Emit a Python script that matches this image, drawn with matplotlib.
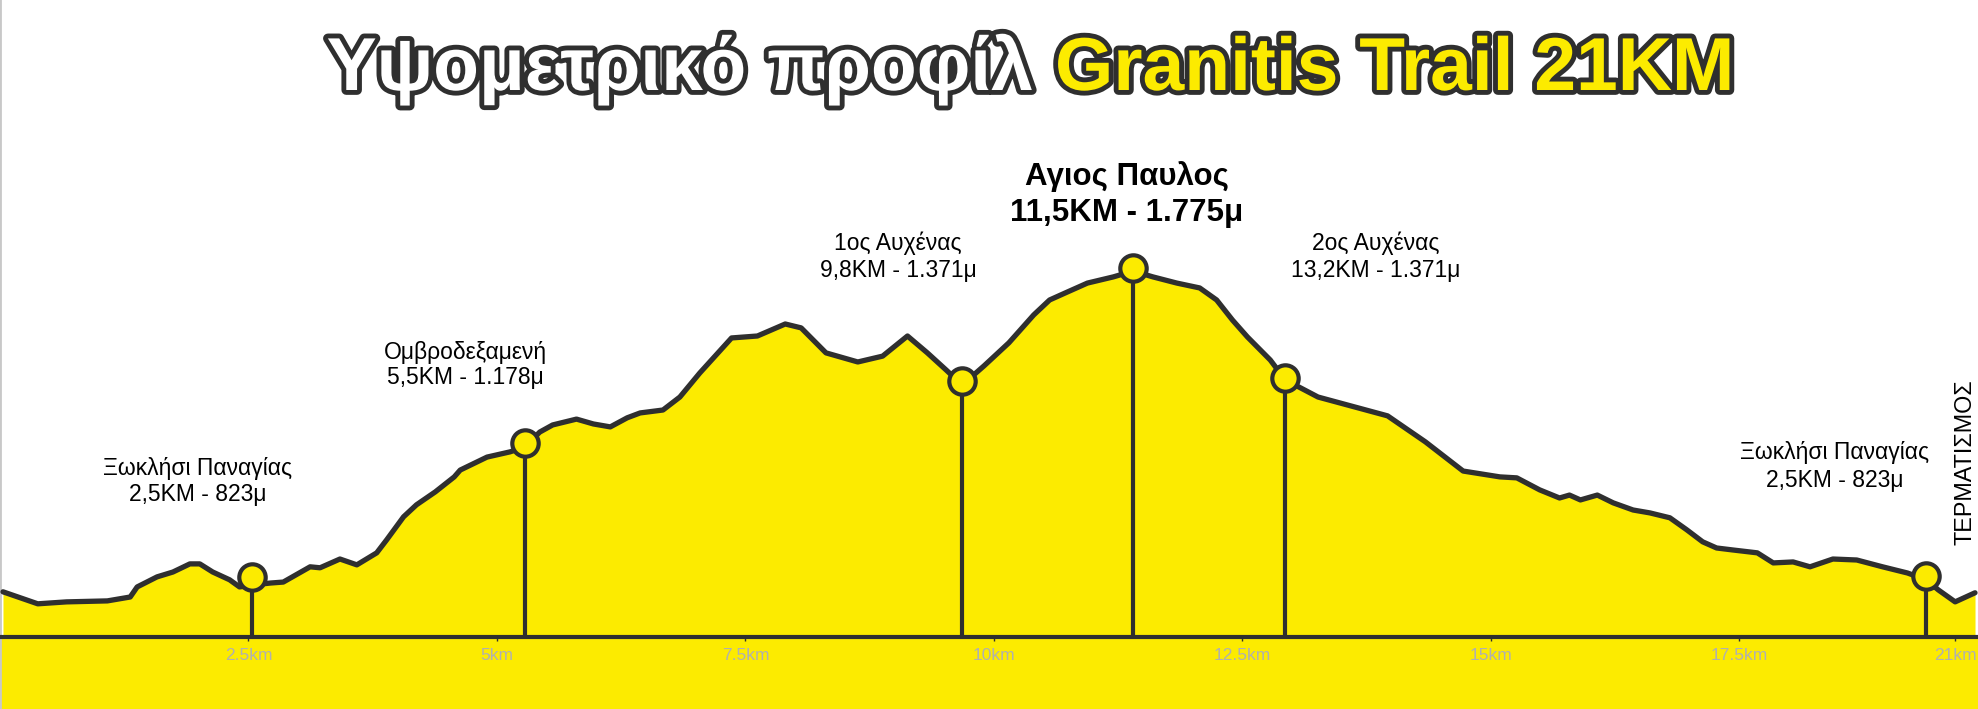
import matplotlib
matplotlib.use("Agg")
import matplotlib.pyplot as plt
import matplotlib.patheffects as pe

plt.rcParams['font.family'] = ['Liberation Sans', 'DejaVu Sans']

# elevation profile (km, metres on the drawing's scale)
dist_km = [0.03, 0.38, 0.67, 1.08, 1.31, 1.38, 1.58, 1.74, 1.91, 2.01,
           2.14, 2.31, 2.41, 2.54, 2.72, 2.85, 3.12, 3.22, 3.42, 3.59,
           3.79, 3.89, 4.06, 4.19, 4.38, 4.57, 4.63, 4.90, 5.13, 5.28,
           5.43, 5.56, 5.80, 5.97, 6.14, 6.31, 6.44, 6.67, 6.84, 7.04,
           7.36, 7.62, 7.90, 8.06, 8.31, 8.63, 8.88, 9.13, 9.33, 9.52,
           9.68, 9.90, 10.15, 10.40, 10.56, 10.72, 10.94, 11.20, 11.40, 11.60,
           11.84, 12.07, 12.24, 12.40, 12.55, 12.78, 12.93, 13.26, 13.96, 14.34,
           14.72, 15.09, 15.26, 15.49, 15.69, 15.79, 15.90, 16.07, 16.23, 16.43,
           16.60, 16.80, 16.97, 17.13, 17.27, 17.43, 17.68, 17.84, 18.04, 18.21,
           18.44, 18.68, 18.94, 19.19, 19.38, 19.50, 19.67, 19.87]
elev_m = [779, 742, 748, 751, 763, 794, 825, 840, 865, 865,
          840, 816, 794, 800, 806, 809, 856, 853, 880, 862,
          899, 939, 1010, 1047, 1087, 1133, 1154, 1194, 1210, 1225,
          1271, 1293, 1311, 1296, 1287, 1315, 1330, 1339, 1379, 1453,
          1561, 1567, 1604, 1592, 1515, 1487, 1505, 1567, 1515, 1462,
          1416, 1475, 1546, 1632, 1678, 1700, 1730, 1749, 1767, 1749,
          1730, 1715, 1678, 1616, 1564, 1493, 1432, 1379, 1321, 1241,
          1151, 1133, 1130, 1093, 1068, 1077, 1062, 1077, 1053, 1031,
          1022, 1007, 970, 933, 914, 908, 899, 868, 871, 856,
          880, 877, 856, 837, 816, 785, 748, 776]

# checkpoints
stop_km = [2.54, 5.28, 9.68, 11.40, 12.93, 19.38]
stop_m = [825, 1238, 1428, 1777, 1438, 828]
stop_names = ["Ξωκλήσι Παναγίας", "Ομβροδεξαμενή", "1ος Αυχένας",
              "Αγιος Παυλος", "2ος Αυχένας", "Ξωκλήσι Παναγίας"]
stop_info = ["2,5KM - 823μ", "5,5KM - 1.178μ", "9,8KM - 1.371μ",
             "11,5KM - 1.775μ", "13,2KM - 1.371μ", "2,5KM - 823μ"]

tick_km = [2.5, 5, 7.5, 10, 12.5, 15, 17.5, 19.67]
tick_labels = ["2.5km", "5km", "7.5km", "10km", "12.5km", "15km", "17.5km", "21km"]

YELLOW = "#FCEB00"
DARK = "#2f2f2f"
W, H = 1978, 709
BASE = 640


def fx(x):
    return x / W


def fy(y):
    return 1 - y / H


fig = plt.figure(figsize=(W / 100, H / 100), dpi=100)
ax = fig.add_axes([0, 0, 1, 1])
ax.set_xlim(0, 19.9)
ax.set_ylim(418, 2602)

ax.fill_between(dist_km, elev_m, 418, color=YELLOW, lw=0, zorder=1)
ax.axhspan(418, BASE, color=YELLOW, lw=0, zorder=1)
ax.plot(dist_km, elev_m, color=DARK, lw=3.8, solid_joinstyle='round',
        solid_capstyle='round', zorder=3)
ax.vlines(stop_km, BASE, stop_m, color=DARK, lw=3, zorder=2)
ax.plot(stop_km, stop_m, 'o', ms=19, mfc=YELLOW, mec=DARK, mew=3, zorder=4)

ax.set_xticks([])
ax.set_yticks([])
for s in ["top", "right", "bottom"]:
    ax.spines[s].set_visible(False)
ax.spines["left"].set_color("#c8c8c8")
ax.spines["left"].set_linewidth(2)

# distance axis along the base line
sec = ax.secondary_xaxis((BASE - 418) / (2602 - 418))
sec.set_zorder(2.5)
sec.set_xticks(tick_km, tick_labels)
sec.tick_params(length=3, width=1, color=DARK, labelcolor="#b0b0b0",
                labelsize=12.5, pad=5)
sec.spines["bottom"].set_color(DARK)
sec.spines["bottom"].set_linewidth(3)

# labels above the checkpoints (pixel positions)
label_x = [198, 465, 898, 1127, 1376, 1835]
label_y1 = [469, 352, 243, 177, 243, 453]
label_y2 = [494, 378, 270, 213, 270, 480]
for i in range(len(stop_names)):
    peak = stop_names[i] == "Αγιος Παυλος"
    size = 22.5 if peak else 16.5
    weight = "bold" if peak else "normal"
    fig.text(fx(label_x[i]), fy(label_y1[i]), stop_names[i], ha="center",
             va="center", fontsize=size, fontweight=weight, color="black")
    fig.text(fx(label_x[i]), fy(label_y2[i]), stop_info[i], ha="center",
             va="center", fontsize=size, fontweight=weight, color="black")

fig.text(fx(1965), fy(462), "ΤΕΡΜΑΤΙΣΜΟΣ", rotation=90, ha="center",
         va="center", fontsize=16.8, color="black")

# title with outline
outline = [pe.Stroke(linewidth=7, foreground=DARK), pe.Normal()]
fig.text(fx(1033), fy(90), "Υψομετρικό προφίλ", ha="right", va="baseline",
         fontsize=54, fontweight="bold", color="white", path_effects=outline)
fig.text(fx(1055), fy(90), "Granitis Trail 21KM", ha="left", va="baseline",
         fontsize=54, fontweight="bold", color=YELLOW, path_effects=outline)

fig.savefig("out.png", dpi=100)
